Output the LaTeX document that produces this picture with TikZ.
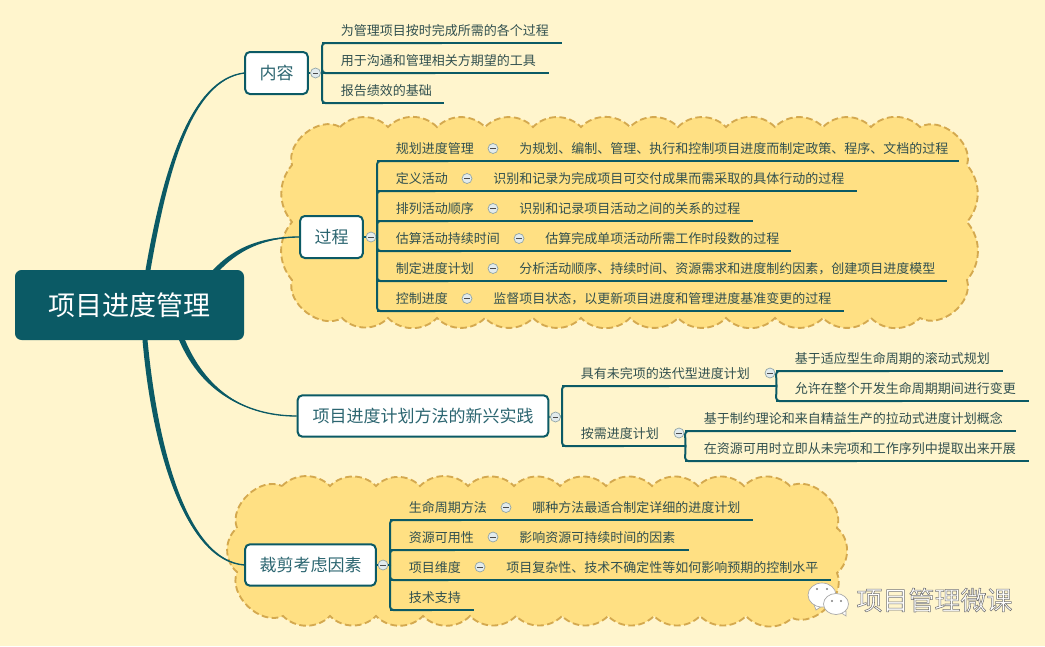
\documentclass[tikz,border=0pt]{standalone}
\usepackage{fontspec}
\setmainfont{Noto Sans CJK SC}
\definecolor{bgc}{HTML}{FFF5CD}
\definecolor{cloudc}{HTML}{FFE083}
\definecolor{cloudl}{HTML}{D4A94F}
\definecolor{tealc}{HTML}{0B5A65}
\definecolor{txtc}{HTML}{31504F}
\definecolor{subj}{HTML}{2B6570}
\newcommand{\leaf}[5]{%
  \pgfmathsetmacro\leafw{(#3-#2)*0.75}%
  \node[leafnode,text width=\leafw pt] (#1) at (#2,#4) {#5};}
\newcommand{\leafp}[5]{%
  \pgfmathsetmacro\leafw{(#3-#2)*0.75}%
  \node[leafnode,text width=\leafw pt] (#1) at (#2,#4) {\hspace*{14pt}#5};}
\newcommand{\trunk}[2]{\draw[branch,rounded corners=2.5pt] (#1) -- (#2.south west) -- (#2.south);}
\tikzset{
  leafnode/.style={anchor=south west,inner xsep=0pt,inner ysep=2.9pt,align=left,text height=8.6pt,text depth=2.4pt,
    font=\fontsize{9.75pt}{11pt}\selectfont,text=txtc},
  branch/.style={draw=tealc,line width=1.5pt},
  subject/.style={draw=tealc,line width=1.5pt,fill=white,rounded corners=3.5pt,text=subj,inner sep=0pt,
    font=\fontsize{12.75pt}{15pt}\selectfont},
  collapse/.style={circle,draw=black!45!tealc!45,fill=white!88!tealc,line width=.5pt,minimum size=7.5pt,inner sep=0pt,
    path picture={\draw[black!70,line width=.5pt] ([xshift=-1.9pt]path picture bounding box.center) -- ([xshift=1.9pt]path picture bounding box.center);}},
  cloud/.style={draw=cloudl,fill=cloudc,line width=1.4pt,dash pattern=on 5pt off 2.6pt},
  conn/.style={draw=tealc,line width=1pt},
  taper/.style={fill=tealc,draw=none},
}
\begin{document}
\begin{tikzpicture}[x=0.75pt,y=-0.75pt]
\useasboundingbox (0,0) rectangle (1045,646);
\fill[bgc] (0,0) rectangle (1045,646);

% clouds
\draw[cloud] (340,127)
  foreach \x in {388,437,485,533,581,630,678,726,775,823,871,920} { to[bend left=45] (\x,127) }
  to[bend left=68] (967,165) to[bend left=40] (967,222) to[bend left=40] (967,280)
  to[bend left=68] (920,318)
  foreach \x in {871,823,775,726,678,630,581,533,485,437,388,342} { to[bend left=45] (\x,318) }
  to[bend left=68] (292,280) to[bend left=40] (292,222) to[bend left=40] (292,165)
  to[bend left=68] (340,127) -- cycle;
\draw[cloud] (282,486)
  foreach \x in {330,376,420,468,514,560,606,652,698,744,790} { to[bend left=45] (\x,486) }
  to[bend left=68] (837,528) to[bend left=50] (837,573)
  to[bend left=68] (792,618)
  foreach \x in {746,700,654,608,562,516,470,423,376,330,283} { to[bend left=45] (\x,616) }
  to[bend left=68] (237,572) to[bend left=50] (237,528)
  to[bend left=68] (282,486) -- cycle;

% root and main topics
\node[fill=tealc,rounded corners=5pt,text=white,minimum width=171.75pt,minimum height=52.5pt,inner sep=0pt,
  font=\fontsize{20.25pt}{24pt}\selectfont] (root) at (129.5,305) {项目进度管理};
\node[subject,minimum width=47pt,minimum height=31.5pt] (nei) at (276.5,73) {内容};
\node[subject,minimum width=47pt,minimum height=31.5pt] (guo) at (331.5,237) {过程};
\node[subject,minimum width=188pt,minimum height=31pt] (xin) at (423,416) {项目进度计划方法的新兴实践};
\node[subject,minimum width=98pt,minimum height=31pt] (cai) at (310.5,565) {裁剪考虑因素};

\coordinate (rA) at (148,270);
\coordinate (rB) at (217,270);
\coordinate (rC) at (182,340);
\coordinate (rD) at (145,340);
\draw[conn] (rA) .. controls (165,170) and (190,80) .. (nei.west);
\draw[conn] (rB) .. controls (240,245) and (270,237) .. (guo.west);
\draw[conn] (rC) .. controls (205,395) and (250,416) .. (xin.west);
\draw[conn] (rD) .. controls (155,450) and (185,560) .. (cai.west);
\fill[taper] (145.5,270) .. controls (163,170) and (190,79) .. (245,73) .. controls (191,81) and (168,170) .. (150.5,270) -- cycle;
\fill[taper] (213,270) .. controls (238,243) and (270,236) .. (300,237) .. controls (270,238) and (243,246) .. (220,270) -- cycle;
\fill[taper] (179,340) .. controls (203,396) and (250,416) .. (298,416) .. controls (250,417) and (208,394) .. (185,340) -- cycle;
\fill[taper] (142.5,340) .. controls (152,450) and (185,561) .. (245,565) .. controls (187,559) and (158,450) .. (147.5,340) -- cycle;

% --- 内容
\node[collapse] (oNei) at (315.5,73) {};
\coordinate (jNei) at (322,73);
\leafp{n1}{322}{561}{43}{为管理项目按时完成所需的各个过程}
\leafp{n2}{322}{548}{73}{用于沟通和管理相关方期望的工具}
\leafp{n3}{322}{443}{103}{报告绩效的基础}
\draw[branch] (nei) -- (oNei) -- (jNei);
\trunk{jNei}{n1}\trunk{jNei}{n2}\trunk{jNei}{n3}
\foreach \n in {n1,n2,n3} \draw[branch] (\n.south west) -- (\n.south east);

% --- 过程
\node[collapse] (oGuo) at (371,237) {};
\coordinate (jGuo) at (377,237);
\draw[branch] (guo) -- (oGuo) -- (jGuo);
\leafp{g1}{377}{519}{161}{规划进度管理}
\leaf{h1}{519}{958}{161}{为规划、编制、管理、执行和控制项目进度而制定政策、程序、文档的过程}
\node[collapse] (p1) at (493,148.5) {};
\leafp{g2}{377}{493}{191}{定义活动}
\leaf{h2}{493}{856}{191}{识别和记录为完成项目可交付成果而需采取的具体行动的过程}
\node[collapse] (p2) at (467,178.5) {};
\leafp{g3}{377}{519}{221}{排列活动顺序}
\leaf{h3}{519}{752}{221}{识别和记录项目活动之间的关系的过程}
\node[collapse] (p3) at (493,208.5) {};
\leafp{g4}{377}{545}{251}{估算活动持续时间}
\leaf{h4}{545}{790}{251}{估算完成单项活动所需工作时段数的过程}
\node[collapse] (p4) at (519,238.5) {};
\leafp{g5}{377}{519}{281}{制定进度计划}
\leaf{h5}{519}{946}{281}{分析活动顺序、持续时间、资源需求和进度制约因素，创建项目进度模型}
\node[collapse] (p5) at (493,268.5) {};
\leafp{g6}{377}{493}{311}{控制进度}
\leaf{h6}{493}{843}{311}{监督项目状态，以更新项目进度和管理进度基准变更的过程}
\node[collapse] (p6) at (467,298.5) {};
\foreach \i in {1,...,6} {\trunk{jGuo}{g\i}\draw[branch] (g\i.south west) -- (h\i.south east);}

% --- 新兴实践
\node[collapse] (oXin) at (555.5,417) {};
\coordinate (jXin) at (562,416);
\draw[branch] (xin) -- (oXin) -- (jXin);
\leafp{x1}{562}{776}{386}{具有未完项的迭代型进度计划}
\leafp{x2}{562}{685}{446}{按需进度计划}
\trunk{jXin}{x1}\trunk{jXin}{x2}
\draw[branch] (x1.south west) -- (x1.south east);
\draw[branch] (x2.south west) -- (x2.south east);
\node[collapse] (ox1) at (770,373) {};
\node[collapse] (ox2) at (679,433) {};
\leafp{y1}{776}{1002}{371}{基于适应型生命周期的滚动式规划}
\leafp{y2}{776}{1028}{401}{允许在整个开发生命周期期间进行变更}
\leafp{y3}{685}{1015}{431}{基于制约理论和来自精益生产的拉动式进度计划概念}
\leafp{y4}{685}{1028}{461}{在资源可用时立即从未完项和工作序列中提取出来开展}
\coordinate (jx1) at (x1.south east);
\coordinate (jx2) at (x2.south east);
\trunk{jx1}{y1}\trunk{jx1}{y2}\trunk{jx2}{y3}\trunk{jx2}{y4}
\foreach \n in {y1,y2,y3,y4} \draw[branch] (\n.south west) -- (\n.south east);

% --- 裁剪
\node[collapse] (oCai) at (383,565) {};
\coordinate (jCai) at (390,565);
\draw[branch] (cai) -- (oCai) -- (jCai);
\leafp{c1}{390}{532}{520}{生命周期方法}
\leaf{e1}{532}{752}{520}{哪种方法最适合制定详细的进度计划}
\node[collapse] (q1) at (506,507.5) {};
\leafp{c2}{390}{519}{550}{资源可用性}
\leaf{e2}{519}{688}{550}{影响资源可持续时间的因素}
\node[collapse] (q2) at (493,537) {};
\leafp{c3}{390}{506}{580}{项目维度}
\leaf{e3}{506}{830}{580}{项目复杂性、技术不确定性等如何影响预期的控制水平}
\node[collapse] (q3) at (480,567) {};
\leafp{c4}{390}{473}{610}{技术支持}
\foreach \i in {1,2,3,4} \trunk{jCai}{c\i}
\draw[branch] (c1.south west) -- (e1.south east);
\draw[branch] (c2.south west) -- (e2.south east);
\draw[branch] (c3.south west) -- (e3.south east);
\draw[branch] (c4.south west) -- (c4.south east);

% --- watermark
\begin{scope}[draw=black!35,line width=.5pt,fill=white]
\filldraw (813,602) -- (816,610) -- (822,606) -- cycle;
\filldraw (822,595) ellipse [x radius=14,y radius=12];
\filldraw (846,611) -- (846,616) -- (840,612) -- cycle;
\filldraw (836,604) ellipse [x radius=12.5,y radius=10.5];
\fill[black!50] (817,589) circle (1.2) (827,589) circle (1.2) (832,601) circle (1.1) (841,601) circle (1.1);
\end{scope}
\node[anchor=center,inner sep=0pt,font=\fontsize{19.5pt}{23pt}\selectfont,text=white] (wm) at (934.5,600)
  {\special{pdf:code q 0.45 0.45 0.45 RG 0.4 w 2 Tr}项目管理微课\special{pdf:code Q}};
\end{tikzpicture}
\end{document}
